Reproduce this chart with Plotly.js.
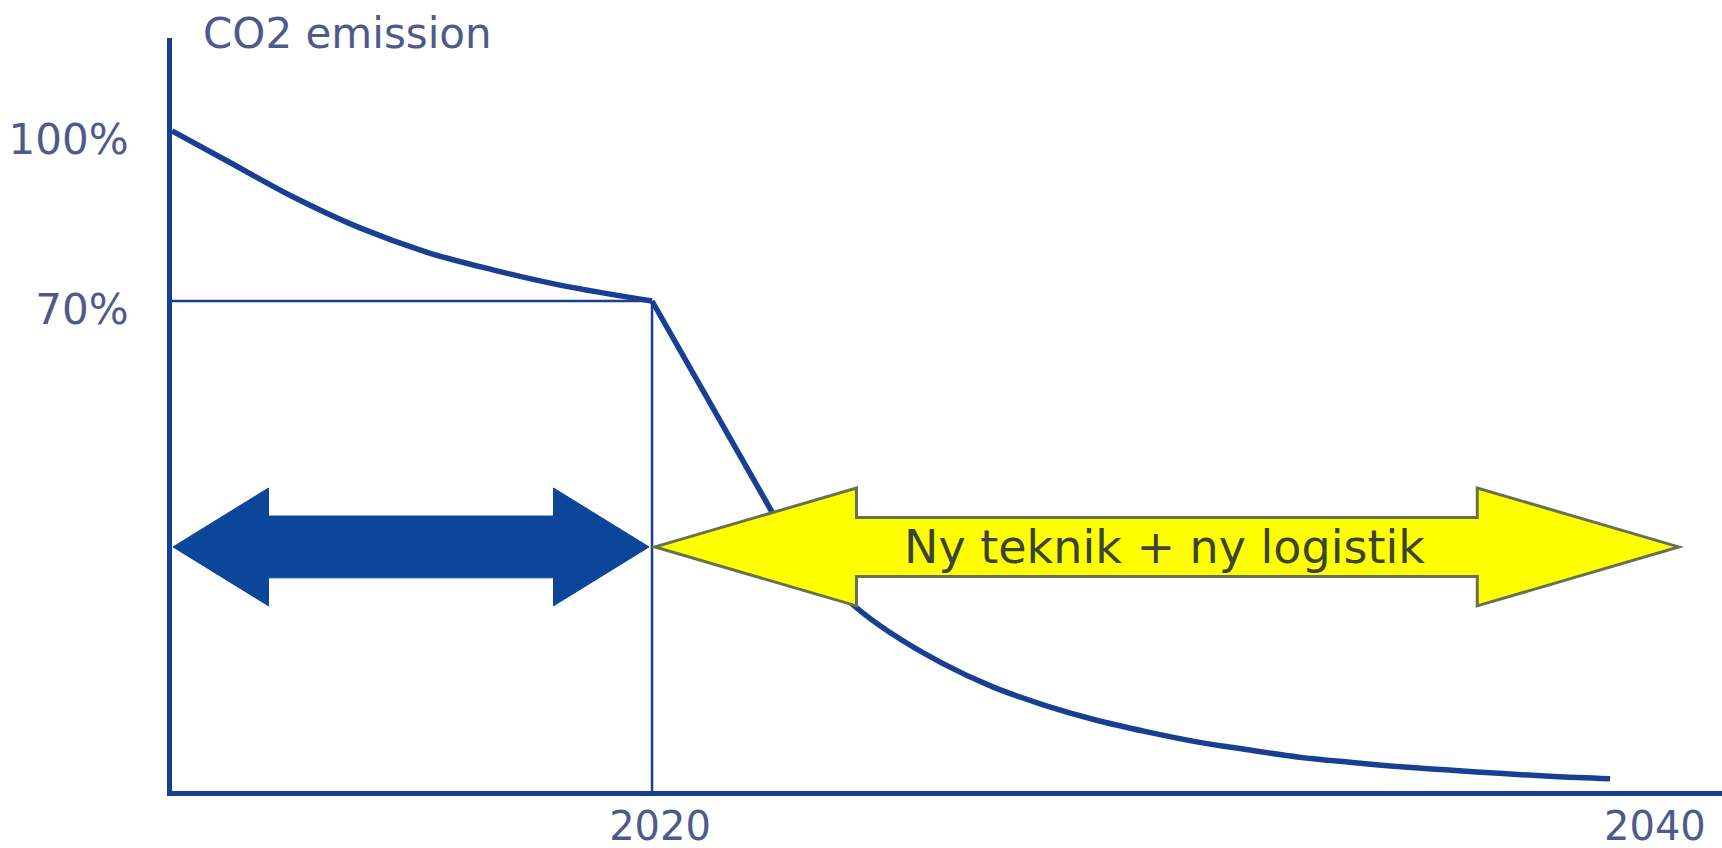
<!DOCTYPE html>
<html>
<head>
<meta charset="utf-8">
<script src="https://cdn.plot.ly/plotly-3.0.1.min.js"></script>
<style>
  html, body { margin: 0; padding: 0; background: #ffffff; }
  #chart { width: 1722px; height: 848px; }
</style>
</head>
<body>
<div id="chart"></div>
<script>
// ---- data ----
const chartTitle = 'CO2 emission';
const yTickValues = [100, 70];
const yTickLabels = ['100%', '70%'];
const xTickValues = [2020, 2040];
const xTickLabels = ['2020', '2040'];

// emission path (percent of start level) up to 2020
const yearsBefore = [2010.35, 2011.46, 2012.78, 2014.13, 2015.48, 2016.80, 2018.15, 2020.00];
const emissionBefore = [100, 94.7, 88.4, 82.9, 78.6, 75.5, 72.8, 70];
// steep fall right after 2020
const yearsDrop = [2020.00, 2021.2, 2022.41];
const emissionDrop = [70, 51.4, 32.8];
// tail towards 2040
const yearsTail = [2022.41, 2023.22, 2024.04, 2024.80, 2025.83, 2026.85, 2027.88, 2028.90, 2029.93, 2030.95,
                   2031.98, 2033.01, 2034.03, 2035.06, 2036.08, 2037.11, 2038.13, 2039.26];
const emissionTail = [32.8, 23.8, 16.4, 11.4, 6.1, 1.9, -1.3, -3.9, -6.0, -7.8,
                      -9.2, -10.5, -11.4, -12.2, -12.8, -13.4, -13.9, -14.3];

// reference marks: 70% level reached in 2020
const refYear = 2020;
const refLevel = 70;

// periods shown by the double arrows
const periodStart = [2010.37, 2020.06];
const periodEnd = [2019.94, 2040.64];
const periodLabel = ['', 'Ny teknik + ny logistik'];

// ---- styling ----
const xRange = [2010.35, 2041.51];
const yRange = [-16.47, 116.41];
const lineBlue = '#183f92';
const textBlue = '#4e5a8c';
const arrowFill = ['#0b469b', '#ffff00'];
const arrowLine = ['#0b469b', '#66724f'];
const arrowHead = [1.92, 4.05];
const arrowY = 26.6;
const headHalf = 10.4;
const shaftHalf = [5.45, 5.2];
const font = 'DejaVu Sans, Verdana, sans-serif';

const curveLine = { color: lineBlue, width: 5.5 };

const traces = [
  { // horizontal reference at 70%
    x: [xRange[0], refYear], y: [refLevel, refLevel],
    mode: 'lines', line: { color: lineBlue, width: 2.5 },
    hoverinfo: 'skip', showlegend: false
  },
  { // vertical reference at 2020
    x: [refYear, refYear], y: [refLevel, yRange[0]],
    mode: 'lines', line: { color: lineBlue, width: 2.5 },
    hoverinfo: 'skip', showlegend: false
  },
  {
    x: yearsBefore, y: emissionBefore,
    mode: 'lines', line: Object.assign({ shape: 'spline', smoothing: 1 }, curveLine),
    name: chartTitle, showlegend: false
  },
  {
    x: yearsDrop, y: emissionDrop,
    mode: 'lines', line: Object.assign({ shape: 'linear' }, curveLine),
    name: chartTitle, showlegend: false
  },
  {
    x: yearsTail, y: emissionTail,
    mode: 'lines', line: Object.assign({ shape: 'spline', smoothing: 1 }, curveLine),
    name: chartTitle, showlegend: false
  }
];

function doubleArrow(x0, x1, head, yc, hh, sh) {
  const a = x0 + head, b = x1 - head;
  return 'M' + x0 + ',' + yc +
    ' L' + a + ',' + (yc + hh) +
    ' L' + a + ',' + (yc + sh) +
    ' L' + b + ',' + (yc + sh) +
    ' L' + b + ',' + (yc + hh) +
    ' L' + x1 + ',' + yc +
    ' L' + b + ',' + (yc - hh) +
    ' L' + b + ',' + (yc - sh) +
    ' L' + a + ',' + (yc - sh) +
    ' L' + a + ',' + (yc - hh) + ' Z';
}

const shapes = periodStart.map((s, i) => ({
  type: 'path', xref: 'x', yref: 'y', layer: 'above',
  path: doubleArrow(s, periodEnd[i], arrowHead[i], arrowY, headHalf, shaftHalf[i]),
  fillcolor: arrowFill[i],
  line: { color: arrowLine[i], width: i === 1 ? 3 : 1 }
}));

const annotations = [];
periodLabel.forEach((t, i) => {
  if (!t) return;
  annotations.push({
    xref: 'x', yref: 'y',
    x: (periodStart[i] + periodEnd[i]) / 2 - 0.05, y: arrowY,
    text: t, showarrow: false, xanchor: 'center', yanchor: 'middle',
    font: { family: font, size: 46, color: '#3b4434' }
  });
});

const layout = {
  width: 1722, height: 848, autosize: false,
  margin: { l: 172, r: 0, t: 38, b: 57, pad: 0 },
  paper_bgcolor: '#ffffff', plot_bgcolor: '#ffffff',
  title: {
    text: chartTitle,
    xref: 'container', yref: 'container',
    x: 203 / 1722, xanchor: 'left',
    y: 1 - 33 / 848, yanchor: 'middle',
    font: { family: font, size: 42, color: textBlue }
  },
  xaxis: {
    range: xRange, showgrid: false, zeroline: false,
    showline: true, linecolor: lineBlue, linewidth: 5,
    tickmode: 'array', tickvals: xTickValues, ticktext: xTickLabels,
    ticks: '', ticklabelstandoff: -4, ticklabelshift: 8,
    tickfont: { family: font, size: 40, color: textBlue },
    fixedrange: true
  },
  yaxis: {
    range: yRange, showgrid: false, zeroline: false,
    showline: true, linecolor: lineBlue, linewidth: 5,
    tickmode: 'array', tickvals: yTickValues, ticktext: yTickLabels,
    ticks: '', ticklabelstandoff: 30, ticklabelshift: 8,
    tickfont: { family: font, size: 42, color: textBlue },
    fixedrange: true
  },
  shapes: shapes,
  annotations: annotations,
  showlegend: false
};

Plotly.newPlot('chart', traces, layout, { displayModeBar: false, staticPlot: true });
</script>
</body>
</html>
